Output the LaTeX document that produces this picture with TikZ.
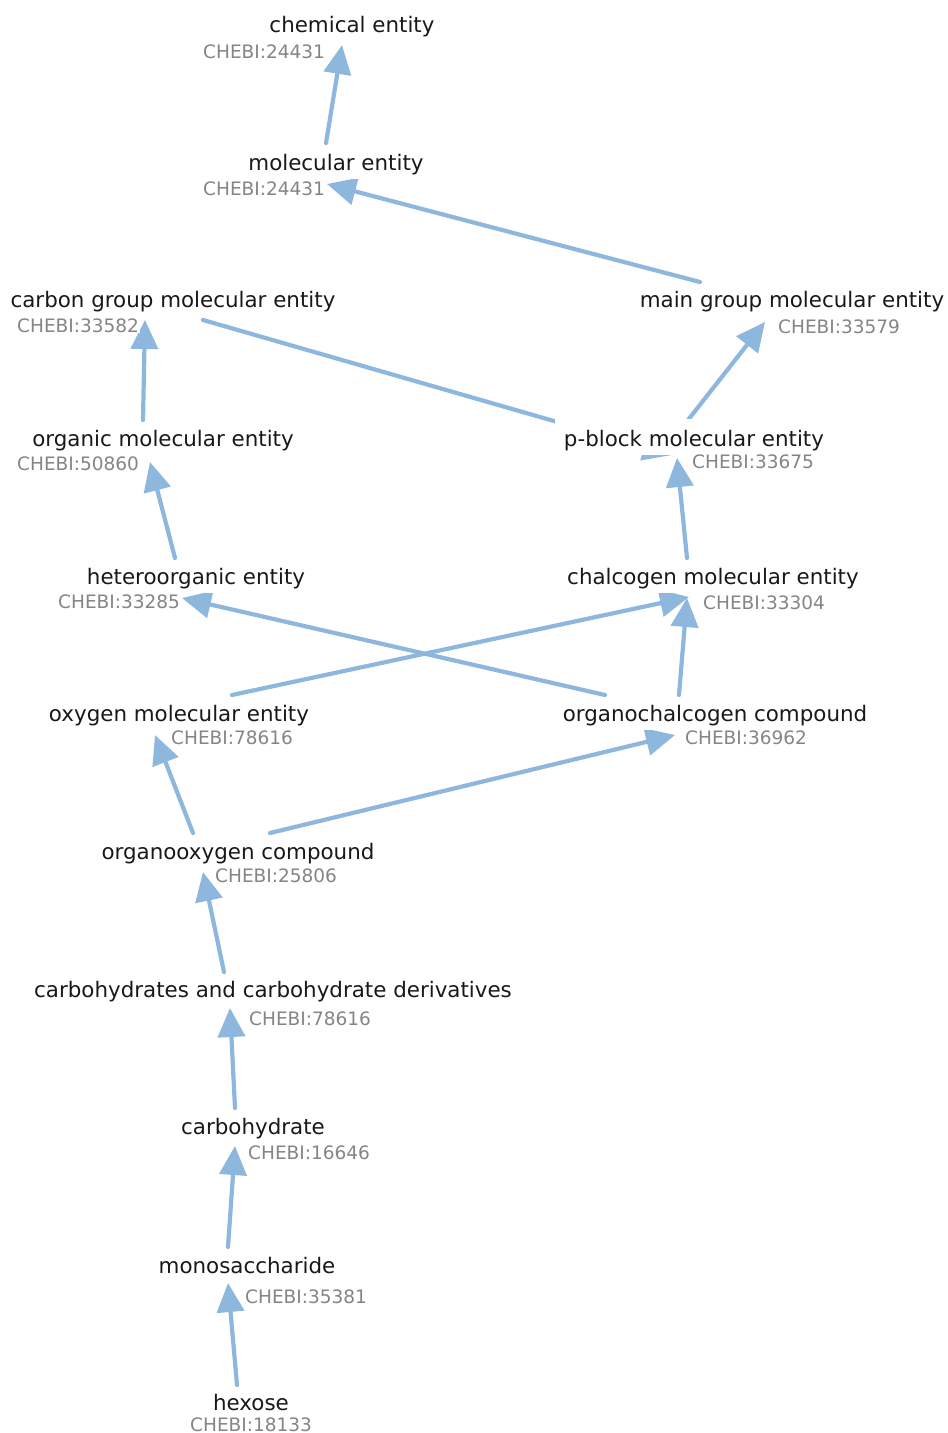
\documentclass[tikz,border=0pt]{standalone}
\usepackage{fontspec}
\setmainfont{DejaVu Sans}
\usetikzlibrary{arrows.meta}
\definecolor{isablue}{HTML}{8DB7DC}
\definecolor{idgray}{HTML}{858585}

\begin{document}
\begin{tikzpicture}[x=1pt, y=-1pt, line cap=round,
  isa/.style={draw=isablue, line width=4.2pt, -{Triangle[length=29pt, width=27pt]}},
  term/.style={fill=white, inner xsep=9pt, inner ysep=5pt, anchor=base, text=black!90,
    font=\fontsize{21.4}{25}\selectfont},
  chebi/.style={fill=white, inner sep=1pt, anchor=base west, text=idgray,
    font=\fontsize{18.5}{22}\selectfont}]
  \useasboundingbox (0, 0) rectangle (948, 1433);

  % Edge end points (tail at the child, tip at the parent)
  \coordinate (mol-out) at (326, 143);      \coordinate (chem-in) at (342, 45);
  \coordinate (main-out) at (700, 282);     \coordinate (mol-in) at (327, 184);
  \coordinate (carbon-out) at (203, 320);   \coordinate (pblock-in2) at (672, 455);
  \coordinate (pblock-out) at (688, 420);   \coordinate (main-in) at (765, 322);
  \coordinate (organic-out) at (143, 420);  \coordinate (carbon-in) at (145, 320);
  \coordinate (hetero-out) at (175, 558);   \coordinate (organic-in) at (150, 462);
  \coordinate (chalc-out) at (687, 558);    \coordinate (pblock-in) at (677, 458);
  \coordinate (oxy-out) at (232, 695);      \coordinate (chalc-in) at (689, 597);
  \coordinate (orgch-out) at (605, 695);    \coordinate (hetero-in) at (182, 598);
  \coordinate (orgch-out2) at (679, 695);   \coordinate (chalc-in2) at (687, 598);
  \coordinate (orgox-out) at (193, 833);    \coordinate (oxy-in) at (155, 735);
  \coordinate (orgox-out2) at (270, 833);   \coordinate (orgch-in) at (675, 735);
  \coordinate (deriv-out) at (224, 972);    \coordinate (orgox-in) at (203, 872);
  \coordinate (carb-out) at (235, 1108);    \coordinate (deriv-in) at (230, 1008);
  \coordinate (mono-out) at (228, 1247);    \coordinate (carb-in) at (235, 1146);
  \coordinate (hexose-out) at (237, 1385);  \coordinate (mono-in) at (228, 1283);

  % is_a edges
  \draw[isa] (mol-out) -- (chem-in);
  \draw[isa] (main-out) -- (mol-in);
  \draw[isa] (carbon-out) -- (pblock-in2);
  \draw[isa] (pblock-out) -- (main-in);
  \draw[isa] (organic-out) -- (carbon-in);
  \draw[isa] (hetero-out) -- (organic-in);
  \draw[isa] (chalc-out) -- (pblock-in);
  \draw[isa] (oxy-out) -- (chalc-in);
  \draw[isa] (orgch-out) -- (hetero-in);
  \draw[isa] (orgch-out2) -- (chalc-in2);
  \draw[isa] (orgox-out) -- (oxy-in);
  \draw[isa] (orgox-out2) -- (orgch-in);
  \draw[isa] (deriv-out) -- (orgox-in);
  \draw[isa] (carb-out) -- (deriv-in);
  \draw[isa] (mono-out) -- (carb-in);
  \draw[isa] (hexose-out) -- (mono-in);

  % Terms
  \node[term] (chem) at (352, 32) {chemical entity};
  \node[term] (mol) at (336, 170) {molecular entity};
  \node[term] (carbon) at (173, 307) {carbon group molecular entity};
  \node[term] (main) at (792, 307) {main group molecular entity};
  \node[term] (organic) at (163, 446) {organic molecular entity};
  \node[term, text height=22pt] (pblock) at (694, 446) {p-block molecular entity};
  \node[term] (hetero) at (196, 584) {heteroorganic entity};
  \node[term] (chalc) at (713, 584) {chalcogen molecular entity};
  \node[term] (oxy) at (179, 721) {oxygen molecular entity};
  \node[term] (orgch) at (715, 721) {organochalcogen compound};
  \node[term] (orgox) at (238, 859) {organooxygen compound};
  \node[term] (deriv) at (273, 997) {carbohydrates and carbohydrate derivatives};
  \node[term] (carb) at (253, 1134) {carbohydrate};
  \node[term] (mono) at (247, 1273) {monosaccharide};
  \node[term] (hexose) at (251, 1410) {hexose};

  % ChEBI identifiers
  \node[chebi] (chem-id) at (202, 58) {CHEBI:24431};
  \node[chebi] (mol-id) at (202, 195) {CHEBI:24431};
  \node[chebi] (carbon-id) at (16, 332) {CHEBI:33582};
  \node[chebi] (main-id) at (777, 333) {CHEBI:33579};
  \node[chebi] (organic-id) at (16, 470) {CHEBI:50860};
  \node[chebi] (pblock-id) at (691, 468) {CHEBI:33675};
  \node[chebi] (hetero-id) at (57, 608) {CHEBI:33285};
  \node[chebi] (chalc-id) at (702, 609) {CHEBI:33304};
  \node[chebi] (oxy-id) at (170, 744) {CHEBI:78616};
  \node[chebi] (orgch-id) at (684, 744) {CHEBI:36962};
  \node[chebi] (orgox-id) at (214, 882) {CHEBI:25806};
  \node[chebi] (deriv-id) at (248, 1025) {CHEBI:78616};
  \node[chebi] (carb-id) at (247, 1159) {CHEBI:16646};
  \node[chebi] (mono-id) at (244, 1303) {CHEBI:35381};
  \node[chebi] (hexose-id) at (189, 1431) {CHEBI:18133};
\end{tikzpicture}
\end{document}
